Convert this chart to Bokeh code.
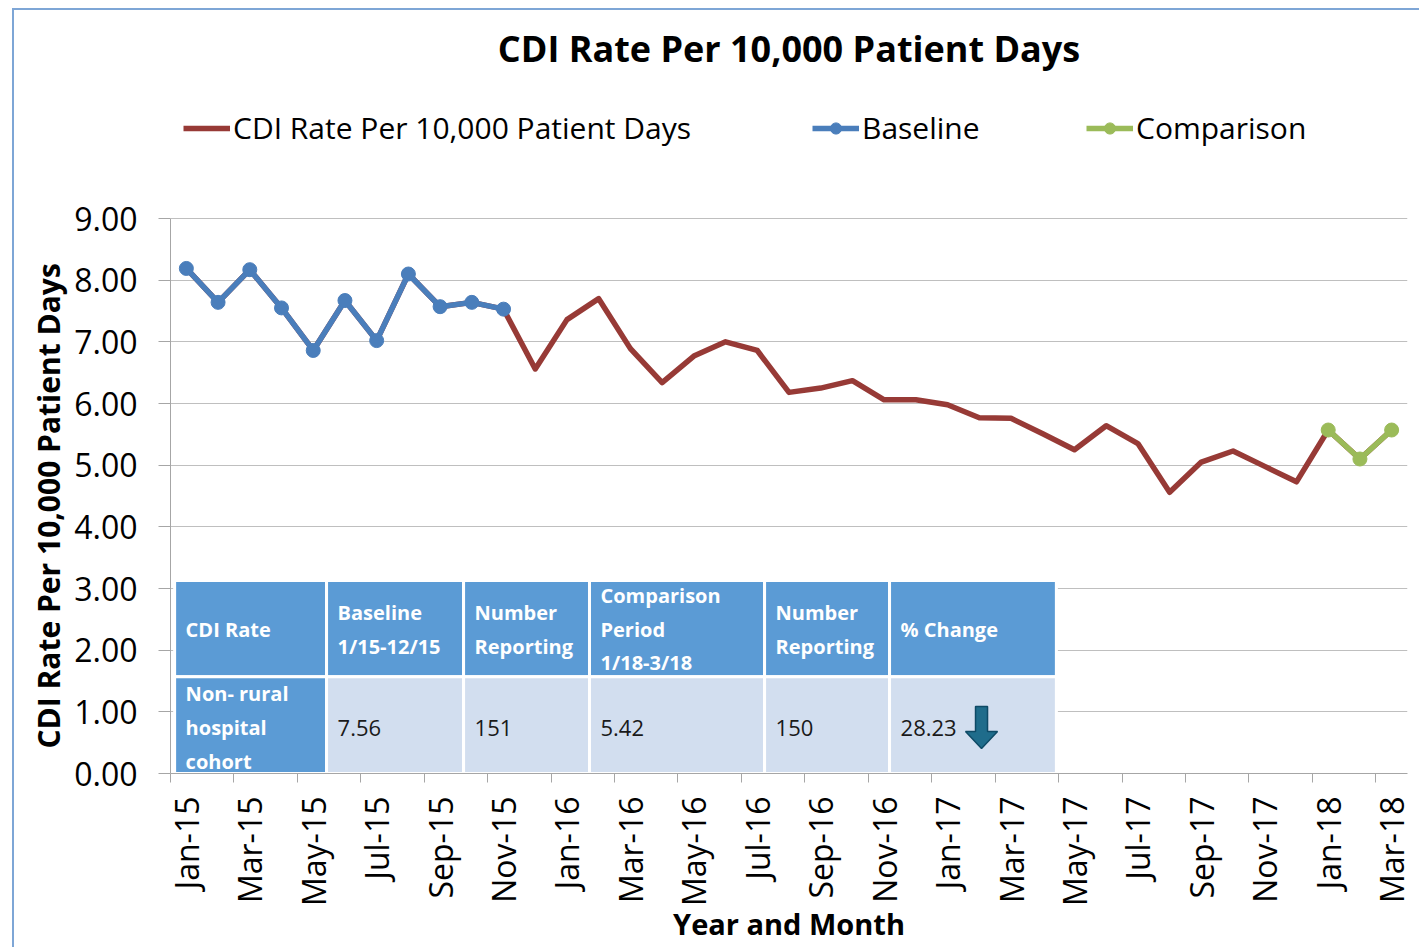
from math import pi
from bokeh.plotting import figure
from bokeh.models import (FixedTicker, Legend, LegendItem, Range1d,
                          PrintfTickFormatter, Title)
from bokeh.core.properties import value
from bokeh.embed import file_html
from bokeh.resources import INLINE

# ---------------- data ----------------
months = ["Jan-15", "Feb-15", "Mar-15", "Apr-15", "May-15", "Jun-15", "Jul-15", "Aug-15",
          "Sep-15", "Oct-15", "Nov-15", "Dec-15",
          "Jan-16", "Feb-16", "Mar-16", "Apr-16", "May-16", "Jun-16", "Jul-16", "Aug-16",
          "Sep-16", "Oct-16", "Nov-16", "Dec-16",
          "Jan-17", "Feb-17", "Mar-17", "Apr-17", "May-17", "Jun-17", "Jul-17", "Aug-17",
          "Sep-17", "Oct-17", "Nov-17", "Dec-17",
          "Jan-18", "Feb-18", "Mar-18"]
cdi_rate = [8.19, 7.64, 8.17, 7.55, 6.86, 7.67, 7.02, 8.10, 7.57, 7.64, 7.53, 6.56,
            7.36, 7.70, 6.89, 6.34, 6.77, 7.00, 6.86, 6.18, 6.25, 6.37, 6.06, 6.06,
            5.98, 5.77, 5.76, 5.51, 5.25, 5.64, 5.35, 4.56, 5.05, 5.23, 4.98, 4.73,
            5.57, 5.10, 5.57]
baseline_months = months[0:11]
baseline_rate = [8.19, 7.64, 8.17, 7.55, 6.86, 7.67, 7.02, 8.10, 7.57, 7.64, 7.53]
comparison_months = ["Jan-18", "Feb-18", "Mar-18"]
comparison_rate = [5.57, 5.10, 5.57]

y_ticks = [0, 1, 2, 3, 4, 5, 6, 7, 8, 9]

table_header = ["CDI Rate", "Baseline\n1/15-12/15", "Number\nReporting",
                "Comparison\nPeriod\n1/18-3/18", "Number\nReporting", "% Change"]
table_row = ["Non- rural\nhospital\ncohort", "7.56", "151", "5.42", "150", "28.23"]

# ---------------- styling / layout ----------------
FONT = "Open Sans"
RED = "#973A36"
BLUE = "#4A7EBB"
GREEN = "#9BBB59"
HEAD_BLUE = "#5B9BD5"
CELL_LIGHT = "#D2DEEF"

idx = {m: i for i, m in enumerate(months)}
x_all = list(range(len(months)))
x_base = [idx[m] for m in baseline_months]
x_comp = [idx[m] for m in comparison_months]

Y_MAX = 9
FRAME_TOP = 90
FRAME_BOTTOM_BORDER = 174
HEIGHT = 947
frame_h = HEIGHT - FRAME_TOP - FRAME_BOTTOM_BORDER
px_per_unit = 555 / Y_MAX
y_end = frame_h / px_per_unit   # room above 9.00 for the legend row

p = figure(width=1419, height=HEIGHT, output_backend="svg", toolbar_location=None,
           x_range=Range1d(-0.5, len(months) - 0.5), y_range=Range1d(0, y_end),
           min_border_left=170, min_border_right=12, min_border_top=FRAME_TOP,
           min_border_bottom=FRAME_BOTTOM_BORDER)
p.border_fill_color = None
p.background_fill_color = "white"
p.outline_line_color = None
p.styles = {"box-shadow": "inset 12px 0 0 0 #ffffff, inset 0 8px 0 0 #ffffff, "
                          "inset 14px 0 0 0 #7EA6D6, inset 0 10px 0 0 #7EA6D6"}

p.title.text = "CDI Rate Per 10,000 Patient Days"
p.title.align = "center"
p.title.text_font = FONT
p.title.text_font_size = "36px"
p.title.text_font_style = "bold"
p.title.text_color = "#000000"
p.title.standoff = 36

# axes
p.xaxis.ticker = FixedTicker(ticks=x_all[::2], minor_ticks=[i - 0.5 for i in x_all[::2]])
p.xaxis.major_label_overrides = {i: months[i] for i in x_all[::2]}
p.xaxis.major_label_orientation = pi / 2
p.xaxis.major_tick_out = 0
p.xaxis.major_tick_in = 0
p.xaxis.minor_tick_out = 9
p.xaxis.minor_tick_in = 0
p.xaxis.minor_tick_line_color = "#A6A6A6"
p.xaxis.major_label_standoff = 14
p.xaxis.axis_label = "Year and Month"
p.xaxis.axis_label_standoff = -5

p.yaxis.ticker = FixedTicker(ticks=y_ticks)
p.yaxis.bounds = (0, Y_MAX)
p.yaxis.formatter = PrintfTickFormatter(format="%.2f")
p.yaxis.major_tick_out = 12
p.yaxis.major_tick_in = 0
p.yaxis.minor_tick_out = 0
p.yaxis.minor_tick_in = 0
p.yaxis.major_label_standoff = 21

for ax in (p.xaxis, p.yaxis):
    ax.axis_line_color = "#A6A6A6"
    ax.major_tick_line_color = "#A6A6A6"
    ax.major_label_text_font = FONT
    ax.major_label_text_font_size = "32px"
    ax.major_label_text_color = "#000000"
    ax.axis_label_text_font = FONT
    ax.axis_label_text_font_size = "29px"
    ax.axis_label_text_font_style = "bold"
    ax.axis_label_text_color = "#000000"

# y-axis title, aligned with the 0..9 part of the axis
y_title = Title(text="CDI Rate Per 10,000 Patient Days", align="left", offset=25,
                standoff=6, text_font=FONT, text_font_size="30px",
                text_font_style="bold", text_color="#000000")
p.add_layout(y_title, "left")

p.xgrid.grid_line_color = None
p.ygrid.ticker = FixedTicker(ticks=y_ticks)
p.ygrid.grid_line_color = "#BFBFBF"
p.ygrid.grid_line_width = 1

# ---------------- table (drawn inside the plot) ----------------
col_edges = [-0.37, 4.42, 8.74, 12.71, 18.23, 22.17, 27.43]
head_bottom, head_top = 1.57, 3.13
body_bottom, body_top = 0.0, 1.57
lefts = col_edges[:-1]
rights = col_edges[1:]
n = len(lefts)

p.quad(left=lefts, right=rights, bottom=[head_bottom] * n, top=[head_top] * n,
       fill_color=HEAD_BLUE, line_color="white", line_width=3)
p.quad(left=lefts, right=rights, bottom=[body_bottom] * n, top=[body_top] * n,
       fill_color=[HEAD_BLUE] + [CELL_LIGHT] * (n - 1), line_color="white", line_width=3)

p.text(x=lefts, y=[2.34] * n, text=table_header, x_offset=11,
       text_font=value(FONT), text_font_size="20px", text_font_style="bold",
       text_color="white", text_baseline="middle", text_align="left",
       text_line_height=1.25)
p.text(x=lefts[:1], y=[0.75], text=table_row[:1], x_offset=11,
       text_font=value(FONT), text_font_size="20px", text_font_style="bold",
       text_color="white", text_baseline="middle", text_align="left",
       text_line_height=1.25)
p.text(x=lefts[1:], y=[0.73] * (n - 1), text=table_row[1:], x_offset=11,
       text_font=value(FONT), text_font_size="22px", text_font_style="normal",
       text_color="#1A1A1A", text_baseline="middle", text_align="left")

# down arrow in the % Change cell
ax0 = col_edges[5] + 2.9
ux = 1 / 31.72
uy = 1 / px_per_unit
arrow_x = [ax0 - 6 * ux, ax0 + 6 * ux, ax0 + 6 * ux, ax0 + 16 * ux, ax0,
           ax0 - 16 * ux, ax0 - 6 * ux]
arrow_y = [67 * uy, 67 * uy, 42 * uy, 42 * uy, 25 * uy, 42 * uy, 42 * uy]
p.patch(arrow_x, arrow_y, fill_color="#1F6C8B", line_color="#0E4A66", line_width=1.5)

# ---------------- series ----------------
red_line = p.line(x_all, cdi_rate, line_color=RED, line_width=5.5, line_join="round")
base_line = p.line(x_base, baseline_rate, line_color=BLUE, line_width=5.5, line_join="round")
base_pts = p.scatter(x_base, baseline_rate, size=14, fill_color=BLUE, line_color=BLUE)
comp_line = p.line(x_comp, comparison_rate, line_color=GREEN, line_width=5.5, line_join="round")
comp_pts = p.scatter(x_comp, comparison_rate, size=14, fill_color=GREEN, line_color=GREEN)


def make_legend(label, renderers, loc):
    lg = Legend(items=[LegendItem(label=label, renderers=renderers)], location=loc,
                orientation="horizontal", border_line_color=None,
                background_fill_alpha=0, padding=0, margin=0, spacing=0,
                glyph_width=47, glyph_height=28, label_height=24, label_standoff=3,
                label_text_font=FONT, label_text_font_size="30px",
                label_text_color="#000000")
    p.add_layout(lg)
    return lg


make_legend("CDI Rate Per 10,000 Patient Days", [red_line], (13, 625))
make_legend("Baseline", [base_line, base_pts], (642, 625))
make_legend("Comparison", [comp_line, comp_pts], (916, 625))

open("out.html", "w").write(file_html(p, INLINE))
